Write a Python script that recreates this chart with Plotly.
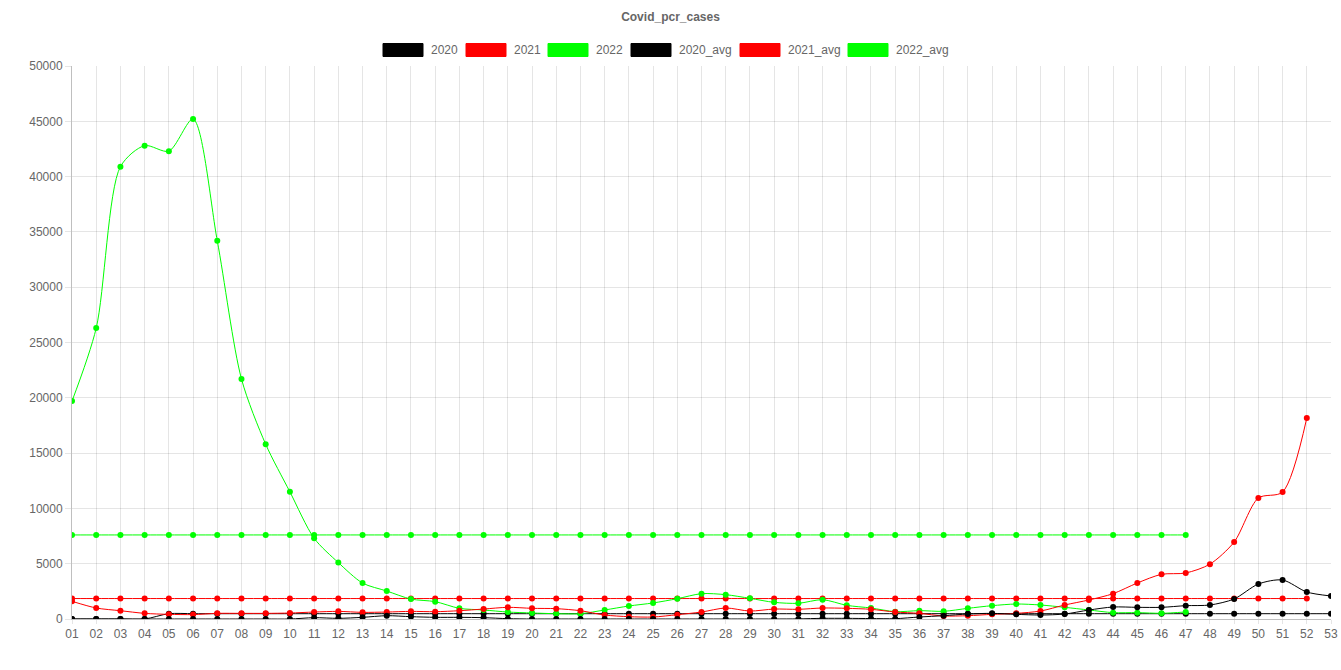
import plotly.graph_objects as go

weeks = [f"{i:02d}" for i in range(1, 54)]

cases_2020 = [0, 0, 0, 0, 0, 0, 0, 0, 0, 0,
              120, 60, 150, 300, 210, 150, 150, 120, 30, 0,
              0, 0, 0, 0, 0, 0, 0, 0, 0, 0,
              10, 60, 60, 40, 30, 180, 300, 450, 510, 420,
              360, 450, 810, 1085, 1055, 1055, 1205, 1265, 1810, 3165,
              3525, 2440, 2080]
cases_2021 = [1600, 995, 750, 510, 420, 400, 510, 510, 510, 540,
              630, 690, 600, 630, 690, 660, 750, 900, 1055, 965,
              935, 750, 360, 210, 180, 390, 630, 995, 720, 900,
              875, 995, 965, 875, 630, 510, 270, 300, 420, 510,
              720, 1265, 1720, 2290, 3255, 4040, 4160, 4960, 6960, 10940,
              11480, 18170]
cases_2022 = [19700, 26300, 40900, 42800, 42300, 45200, 34200, 21700, 15800, 11500,
              7300, 5100, 3250, 2530, 1800, 1570, 965, 815, 630, 545,
              480, 480, 815, 1175, 1450, 1835, 2290, 2200, 1870, 1505,
              1420, 1745, 1235, 995, 665, 755, 695, 965, 1205, 1355,
              1265, 1055, 815, 575, 575, 515, 635]
avg_2020 = [0, 0, 0, 0] + [480] * 49
avg_2021 = [1850] * 52
avg_2022 = [7600] * 47

series = [
    ("2020", cases_2020, "#000000"),
    ("2021", cases_2021, "#ff0000"),
    ("2022", cases_2022, "#00ff00"),
    ("2020_avg", avg_2020, "#000000"),
    ("2021_avg", avg_2021, "#ff0000"),
    ("2022_avg", avg_2022, "#00ff00"),
]

W, H = 1341, 670
PL, PR, PT, PB = 72, 1331, 66, 619  # plot box in page pixels
pw, ph = PR - PL, PB - PT

fig = go.Figure()
for name, vals, color in reversed(series):
    fig.add_trace(go.Scatter(
        x=weeks[:len(vals)], y=vals, name=name, mode="lines+markers",
        line=dict(color=color, width=1, shape="spline", smoothing=0.8),
        marker=dict(color=color, size=6),
        showlegend=False,
    ))

# Chart.js-style legend with filled boxes
shapes = []
annotations = []
legend_pos = [383, 466, 548, 631, 740, 848]
for (name, vals, color), x0 in zip(series, legend_pos):
    shapes.append(dict(type="rect", xref="paper", yref="paper",
                       x0=(x0 - PL) / pw, x1=(x0 + 40 - PL) / pw,
                       y0=(PB - 56.5) / ph, y1=(PB - 43.5) / ph,
                       fillcolor=color, line=dict(color=color, width=1)))
    annotations.append(dict(text=name, xref="paper", yref="paper",
                            x=(x0 + 46 - PL) / pw, y=(PB - 50) / ph,
                            xanchor="left", yanchor="middle", showarrow=False,
                            font=dict(size=12, color="#666666")))

fig.update_layout(
    width=W, height=H,
    margin=dict(l=PL, r=W - PR, t=PT, b=H - PB),
    paper_bgcolor="white", plot_bgcolor="white",
    font=dict(family="Liberation Sans, Arial, sans-serif", size=12, color="#666666"),
    title=dict(text="<b>Covid_pcr_cases</b>", x=0.5, xref="container",
               xanchor="center", y=1 - 17 / H, yanchor="middle",
               font=dict(size=12, color="#666666")),
    shapes=shapes,
    annotations=annotations,
    showlegend=False,
    xaxis=dict(type="category", categoryorder="array", categoryarray=weeks,
               range=[0, 52], showgrid=True, gridcolor="rgba(0,0,0,0.1)",
               ticks="outside", ticklen=4, tickcolor="rgba(0,0,0,0.1)",
               showline=True, linecolor="rgba(0,0,0,0.25)", zeroline=False,
               automargin=False, ticklabeloverflow="allow",
               tickfont=dict(size=12, color="#666666")),
    yaxis=dict(range=[0, 50000], dtick=5000, showgrid=True,
               gridcolor="rgba(0,0,0,0.1)", ticks="outside", ticklen=6,
               tickcolor="rgba(0,0,0,0.1)", showline=True,
               linecolor="rgba(0,0,0,0.25)", zeroline=False,
               automargin=False,
               tickfont=dict(size=12, color="#666666"), tickformat="d"),
)

fig.write_html("out.html",
               config={"displayModeBar": False},
               post_script="document.body.style.margin='0';document.body.style.overflow='hidden';")
